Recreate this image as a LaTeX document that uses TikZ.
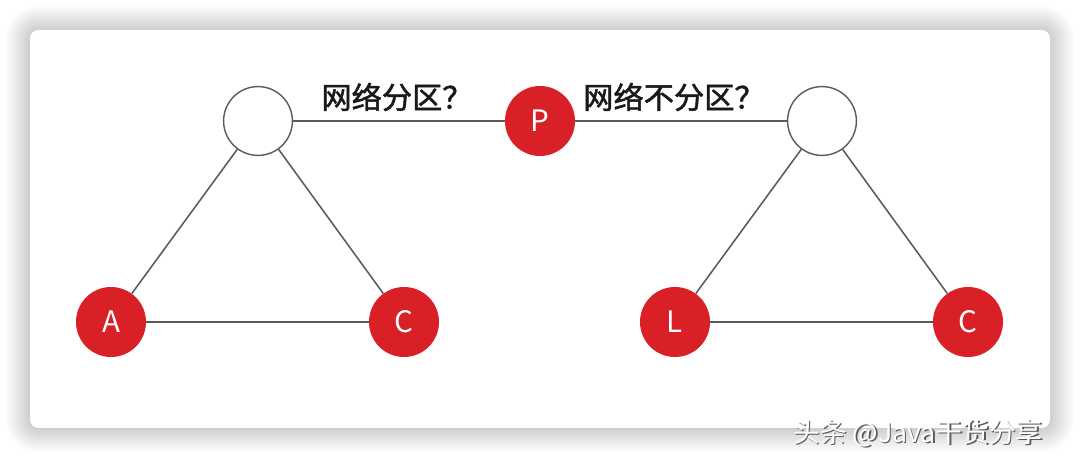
\documentclass[tikz,border=0pt]{standalone}
\usepackage{fontspec}
\setmainfont{Noto Sans CJK SC}
\newfontfamily\heavycjk{Noto Sans CJK SC}[FakeBold=1.6]
\definecolor{nodered}{RGB}{216,32,38}
\definecolor{edgegray}{RGB}{90,90,90}
\tikzset{
	rednode/.style={circle, fill=nodered, text=white, minimum size=1.75cm, inner sep=0pt, font=\fontsize{21}{21}\selectfont},
	emptynode/.style={circle, draw=edgegray, fill=white, line width=1pt, minimum size=1.72cm, inner sep=0pt},
	link/.style={draw=edgegray, line width=1.1pt},
	question/.style={font=\heavycjk\fontsize{21.5}{21.5}\selectfont, text=black!90}
}
\begin{document}
\begin{tikzpicture}[x=0.025cm, y=-0.025cm]
		\useasboundingbox (0, 0) rectangle (1080, 458);
		\fill[white] (0, 0) rectangle (1080, 458);
		% soft shadow round the card
		\foreach \i in {1, ..., 24}
			\fill[black, opacity=.008, rounded corners={6pt+0.7pt*\i}] ({30-\i}, {30-\i}) rectangle ({1050+\i}, {428+\i});
		\fill[white, rounded corners=6pt] (30, 30) rectangle (1050, 428);
		% left triangle
		\node[emptynode] (top1) at (258, 121) {};
		\node[rednode] (a) at (111, 322) {A};
		\node[rednode] (c1) at (404, 322) {C};
		% right triangle
		\node[emptynode] (top2) at (822, 121) {};
		\node[rednode] (l) at (675, 322) {L};
		\node[rednode] (c2) at (968, 322) {C};
		\node[rednode] (p) at (540, 121) {P};
		\draw[link] (top1) -- (a);
		\draw[link] (top1) -- (c1);
		\draw[link] (a) -- (c1);
		\draw[link] (top2) -- (l);
		\draw[link] (top2) -- (c2);
		\draw[link] (l) -- (c2);
		\draw[link] (top1) -- (p);
		\draw[link] (p) -- (top2);
		\node[question] (q1) at (397, 97) {网络分区？};
		\node[question] (q2) at (674, 97) {网络不分区？};
		% watermark
		\node[font=\fontsize{19}{19}\selectfont, text=black!65] (mark0) at (919.5, 434.5) {头条 @Java干货分享};
		\node[font=\fontsize{19}{19}\selectfont, text=white] (mark) at (918, 433) {头条 @Java干货分享};
\end{tikzpicture}
\end{document}
